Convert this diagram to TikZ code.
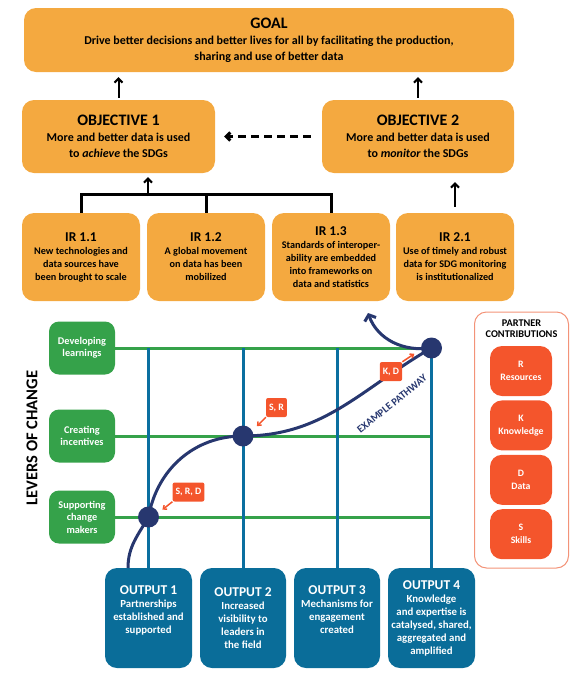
\documentclass[tikz,border=0pt]{standalone}
\usepackage{fontspec}
\setmainfont{Carlito}
\usetikzlibrary{arrows.meta,positioning}

\definecolor{goalorange}{HTML}{F4A940}
\definecolor{levergreen}{HTML}{35A24A}
\definecolor{outblue}{HTML}{0A6D99}
\definecolor{gridblue}{HTML}{0B6FA0}
\definecolor{pathnavy}{HTML}{27376F}
\definecolor{tagred}{HTML}{F4552C}
\definecolor{rimsalmon}{HTML}{F39378}

\tikzset{
  box/.style={rectangle, rounded corners=12pt, align=center, inner sep=2pt},
  orangebox/.style={box, fill=goalorange, text=black, font=\fontsize{12}{16}\selectfont\bfseries},
  irbox/.style={box, fill=goalorange, text=black, minimum width=118pt, minimum height=88pt,
    font=\fontsize{10.2}{13}\selectfont\bfseries},
  leverbox/.style={box, rounded corners=10pt, fill=levergreen, text=white, minimum width=66pt,
    minimum height=53pt, font=\fontsize{10.3}{12.5}\selectfont\bfseries},
  outbox/.style={box, fill=outblue, text=white, minimum width=87pt, minimum height=100pt,
    font=\fontsize{10.8}{13}\selectfont\bfseries},
  contribbox/.style={box, fill=tagred, text=white, minimum width=62pt, minimum height=50pt,
    font=\fontsize{9.8}{13}\selectfont\bfseries},
  tagbox/.style={rectangle, rounded corners=2pt, fill=tagred, text=white, inner sep=3pt,
    minimum height=19pt, font=\fontsize{9.8}{10}\selectfont\bfseries},
  tagarrow/.style={tagred, line width=1.5pt, -{Straight Barb[length=3pt,width=5pt]}},
  uparrow/.style={black, line width=2pt, -{Straight Barb[length=4pt,width=8pt]}},
  bracket/.style={black, line width=3pt},
  leverline/.style={levergreen, line width=3pt},
  outline/.style={gridblue, line width=3pt},
  pathway/.style={pathnavy, line width=3pt},
  stepdot/.style={circle, fill=pathnavy, minimum size=21pt, inner sep=0pt},
}
\newcommand{\bigtitle}[1]{{\fontsize{16}{19}\selectfont #1}}
\newcommand{\irtitle}[1]{{\fontsize{13.5}{18}\selectfont #1}}

\begin{document}
\begin{tikzpicture}[x=1pt,y=-1pt]
\useasboundingbox (0,0) rectangle (577,686);

% goal and objectives
\node[orangebox, minimum width=490pt, minimum height=64pt] (goal) at (269,40)
{\bigtitle{GOAL}\\Drive better decisions and better lives for all by facilitating the production,\\sharing and use of better data};
\node[orangebox, minimum width=193pt, minimum height=73pt] (obj1) at (118.5,136.5)
{\bigtitle{OBJECTIVE 1}\\More and better data is used\\to \textit{achieve} the SDGs};
\node[orangebox, minimum width=192pt, minimum height=73pt] (obj2) at (418,136.5)
{\bigtitle{OBJECTIVE 2}\\More and better data is used\\to \textit{monitor} the SDGs};

\draw[uparrow, shorten <=2pt, shorten >=5pt] (obj1.north) -- (goal.south -| obj1.north);
\draw[uparrow, shorten <=2pt, shorten >=5pt] (obj2.north) -- (goal.south -| obj2.north);
\draw[uparrow, dashed, dash pattern=on 8pt off 5pt, line width=3pt, shorten <=11pt, shorten >=9pt]
  (obj2.west) -- (obj1.east);

% intermediate results
\node[irbox] (ir11) at (81,257) {\irtitle{IR 1.1}\\New technologies and\\data sources have\\been brought to scale};
\node[irbox] (ir12) at (206,257) {\irtitle{IR 1.2}\\A global movement\\on data has been\\mobilized};
\node[irbox] (ir13) at (331,257) {\irtitle{IR 1.3}\\Standards of interoper-\\ability are embedded\\into frameworks on\\data and statistics};
\node[irbox] (ir21) at (455,257) {\irtitle{IR 2.1}\\Use of timely and robust\\data for SDG monitoring\\is institutionalized};

\draw[bracket] (ir11.north) -- ++(0,-18) -| (ir13.north);
\draw[bracket] (ir12.north) -- ++(0,-18);
\coordinate (brk) at (148,196);
\draw[uparrow, shorten >=4pt] (brk) -- (brk |- obj1.south);
\draw[uparrow, shorten <=6pt, shorten >=9pt] (ir21.north) -- (ir21.north |- obj2.south);

% levers of change
\node[leverbox] (lev1) at (82,348) {Developing\\learnings};
\node[leverbox] (lev2) at (82,436) {Creating\\incentives};
\node[leverbox] (lev3) at (82,517) {Supporting\\change\\makers};
\node[rotate=90, font=\fontsize{16.5}{18}\selectfont\bfseries] (levers) at (32,438) {LEVERS OF CHANGE};

% outputs
\node[outbox] (out1) at (148.5,618) {\irtitle{OUTPUT 1}\\Partnerships\\established and\\supported\\[4pt]};
\node[outbox, minimum width=86pt] (out2) at (243,618) {\irtitle{OUTPUT 2}\\Increased\\visibility to\\leaders in\\the field};
\node[outbox, minimum width=86pt] (out3) at (337,618) {\irtitle{OUTPUT 3}\\Mechanisms for\\engagement\\created\\[4pt]};
\node[outbox] (out4) at (431.5,618) {\irtitle{OUTPUT 4}\\Knowledge\\and expertise is\\catalysed, shared,\\aggregated and\\amplified};

% grid
\foreach \lev in {lev1,lev2,lev3}
  \draw[leverline] (\lev.east) -- (\lev.east -| out4.north);
\foreach \out in {out1,out2,out3,out4}
  \draw[outline] (\out.north) -- (\out.north |- lev1.east);

% example pathway
\coordinate (pstart) at (128,568);
\coordinate (p1) at (out1.north |- lev3.east);
\coordinate (p2) at (out2.north |- lev2.east);
\coordinate (p3) at (out4.north |- lev1.east);
\coordinate (ptip) at (368,313);
\draw[pathway] (pstart) to[out=90,in=-120] (p1) to[out=80,in=180] (p2)
  to[out=0,in=210] (p3);
\draw[pathway, -{Straight Barb[length=5pt,width=12pt]}] (p3) to[out=188,in=-70] (ptip);
\node[stepdot] (dot1) at (p1) {};
\node[stepdot] (dot2) at (p2) {};
\node[stepdot] (dot3) at (p3) {};
\node[rotate=39, text=pathnavy, inner sep=0pt, font=\fontsize{10.5}{11}\selectfont\bfseries] (pathlabel) at (392,404) {EXAMPLE PATHWAY};

% contributions on the pathway
\node[tagbox] (tag3) at (391,371.5) {K, D};
\node[tagbox] (tag2) at (276.5,407.5) {S, R};
\node[tagbox] (tag1) at (188.5,492) {S, R, D};
\draw[tagarrow] (tag3.north east) -- ++(12,-8);
\draw[tagarrow] (tag2.south west) -- ++(-9,9);
\draw[tagarrow] (tag1.south west) -- ++(-10,8);

% partner contributions
\node[box, draw=rimsalmon, line width=1pt, minimum width=94pt, minimum height=256pt] (partners) at (521.5,440) {};
\node[font=\fontsize{10.3}{11}\selectfont\bfseries, align=center] (ptitle) at (521.5,329) {PARTNER\\CONTRIBUTIONS};
\node[contribbox] (cr) at (521,371) {R\\Resources};
\node[contribbox, below=4pt of cr] (ck) {K\\Knowledge};
\node[contribbox, below=4pt of ck] (cd) {D\\Data};
\node[contribbox, below=4pt of cd] (cs) {S\\Skills};
\end{tikzpicture}
\end{document}
